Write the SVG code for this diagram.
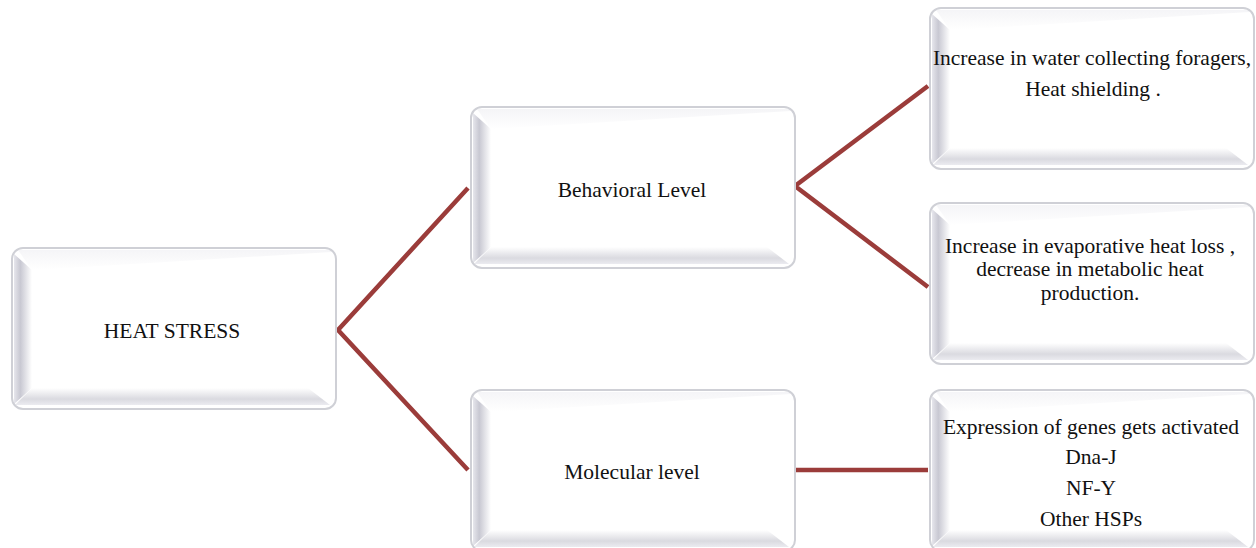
<svg xmlns="http://www.w3.org/2000/svg" width="1256" height="548" viewBox="0 0 1256 548">
<defs>
<linearGradient id="gl" x1="0" y1="0" x2="1" y2="0">
<stop offset="0" stop-color="#e6e6ec"/>
<stop offset="0.35" stop-color="#c8c8d2"/>
<stop offset="1" stop-color="#ffffff"/>
</linearGradient>
<linearGradient id="gb" x1="0" y1="0" x2="0" y2="1">
<stop offset="0" stop-color="#ffffff"/>
<stop offset="0.65" stop-color="#dadae0"/>
<stop offset="1" stop-color="#ebebf0"/>
</linearGradient>
<linearGradient id="gt" x1="0" y1="0" x2="0" y2="1">
<stop offset="0" stop-color="#eeeef2"/>
<stop offset="1" stop-color="#ffffff"/>
</linearGradient>
<g id="box">
<rect x="0" y="0" width="324" height="161" rx="11" fill="#ffffff"/>
<path d="M2,6 L20,22 L20,140 L2,156 Z" fill="url(#gl)"/>
<path d="M3,157 L20,140 L296,140 L318,157 Z" fill="url(#gb)"/>
<path d="M6,2 L318,2 L320,4 L20,22 Z" fill="url(#gt)" opacity="0.6"/>
<rect x="0" y="0" width="324" height="161" rx="11" fill="none" stroke="#cfd0d6" stroke-width="2"/>
</g>
</defs>
<style>
.t{font-family:"Liberation Serif","Times New Roman",serif;font-size:21.5px;fill:#111;text-anchor:middle}
.c{stroke:#9b3c3a;stroke-width:4.5;fill:none;stroke-linecap:butt}
</style>
<g id="connectors">
<path class="c" d="M468,188 L338,330 L468,470"/>
<path class="c" d="M928,86 L795,186 L928,287"/>
<path class="c" d="M795,470 L928,470" stroke-width="6"/>
</g>
<g id="heat-stress">
<use href="#box" x="12" y="248"/>
<text class="t" x="172" y="338">HEAT STRESS</text>
</g>
<g id="behavioral">
<use href="#box" x="471" y="107"/>
<text class="t" x="632" y="197">Behavioral Level</text>
</g>
<g id="molecular">
<use href="#box" x="471" y="390"/>
<text class="t" x="632" y="479">Molecular level</text>
</g>
<g id="foragers">
<use href="#box" x="930" y="8"/>
<text class="t" x="1092" y="65">Increase in water collecting foragers,</text>
<text class="t" x="1093" y="96">Heat shielding .</text>
</g>
<g id="evaporative">
<use href="#box" x="930" y="203"/>
<text class="t" x="1090" y="253">Increase in evaporative heat loss ,</text>
<text class="t" x="1090" y="276">decrease in metabolic heat</text>
<text class="t" x="1090" y="300">production.</text>
</g>
<g id="genes">
<use href="#box" x="930" y="390"/>
<text class="t" x="1091" y="434">Expression of genes gets activated</text>
<text class="t" x="1091" y="464">Dna-J</text>
<text class="t" x="1091" y="495">NF-Y</text>
<text class="t" x="1091" y="526">Other HSPs</text>
</g>
</svg>
